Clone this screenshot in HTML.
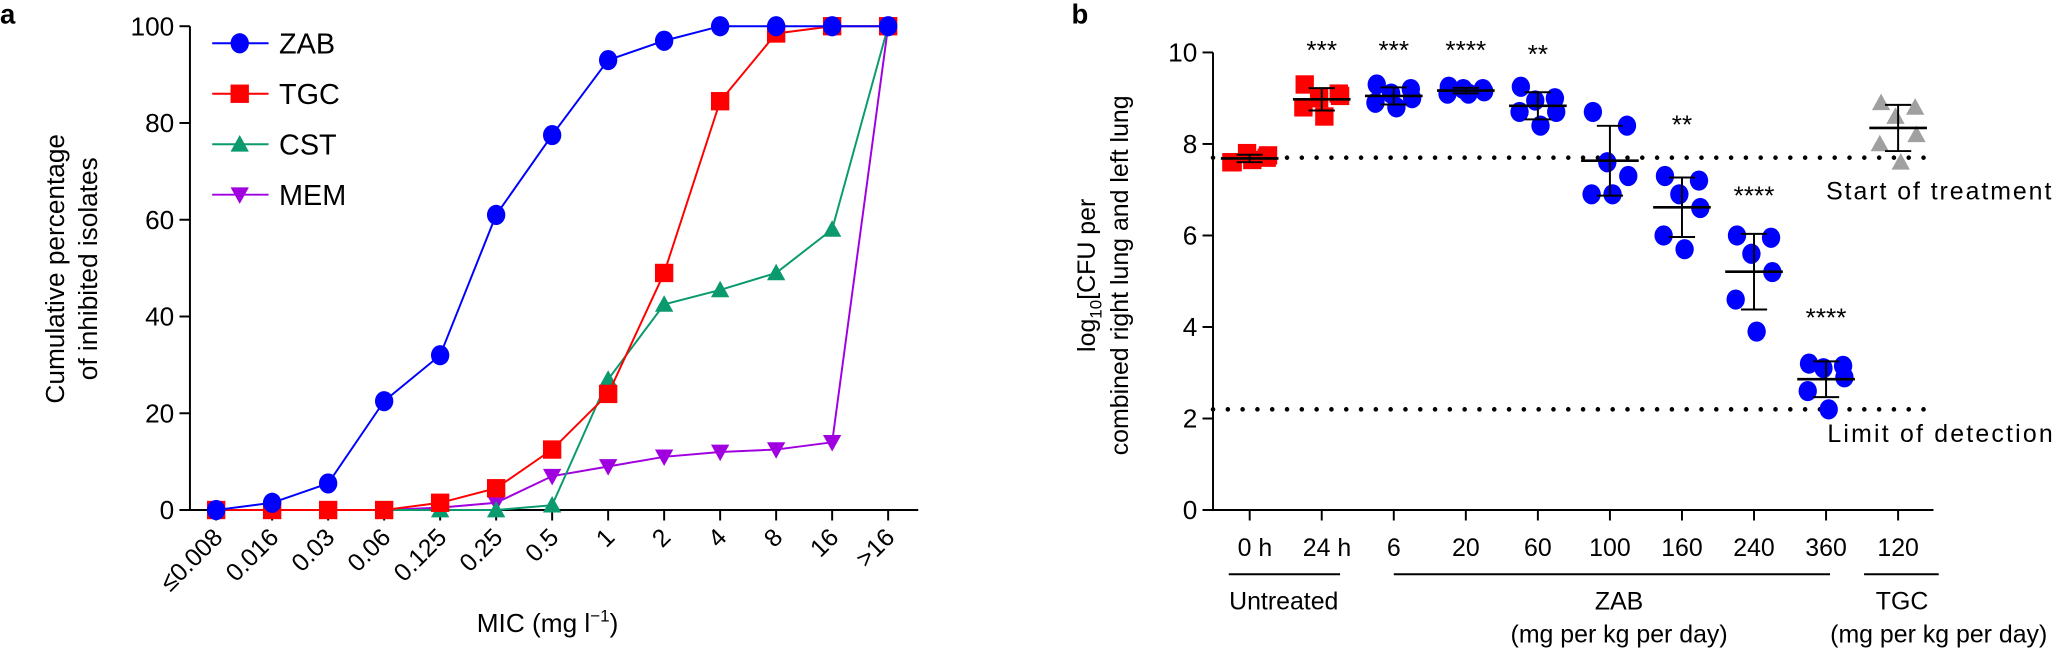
<!DOCTYPE html>
<html><head><meta charset="utf-8"><style>
html,body{margin:0;padding:0;background:#fff}
svg{display:block}
text{font-family:"Liberation Sans",Arial,sans-serif;fill:#000}
</style></head><body>
<svg id="s" width="2054" height="649" viewBox="0 0 1568 495" preserveAspectRatio="none" xmlns="http://www.w3.org/2000/svg">
<text x="0" y="18" font-size="21" font-weight="bold">a</text>
<text x="818" y="18" font-size="21" font-weight="bold">b</text>
<g id="A"></g>
<g id="B"></g>
</svg>
<script>
const NS="http://www.w3.org/2000/svg";
function el(p,t,a,txt){const e=document.createElementNS(NS,t);for(const k in a)e.setAttribute(k,a[k]);if(txt!==undefined)e.textContent=txt;p.appendChild(e);return e;}
const A=document.getElementById('A'),B=document.getElementById('B');
// Panel a
const ax=145,y0=389,y100=20;const Y=v=>y0-(y0-y100)*v/100;const X=i=>165+42.75*i;
el(A,'line',{x1:ax,y1:y100,x2:ax,y2:y0,stroke:'#000','stroke-width':1.5});
el(A,'line',{x1:ax-8,y1:y0,x2:701,y2:y0,stroke:'#000','stroke-width':1.5});
[0,20,40,60,80,100].forEach(v=>{el(A,'line',{x1:ax-8,y1:Y(v),x2:ax,y2:Y(v),stroke:'#000','stroke-width':1.5});el(A,'text',{x:ax-12,y:Y(v)+7,'font-size':20,'text-anchor':'end'},v);});
const cats=['≤0.008','0.016','0.03','0.06','0.125','0.25','0.5','1','2','4','8','16','>16'];
cats.forEach((c,i)=>{el(A,'line',{x1:X(i),y1:y0,x2:X(i),y2:y0+8,stroke:'#000','stroke-width':1.5});el(A,'text',{x:X(i)+6,y:y0+22,'font-size':19,'text-anchor':'end',transform:`rotate(-45 ${X(i)+6} ${y0+22})`},c);});
el(A,'text',{x:418,y:482,'font-size':20,'text-anchor':'middle'}).innerHTML='MIC (mg l<tspan dy="-8" font-size="13">−1</tspan><tspan dy="8">)</tspan>';
el(A,'text',{x:49,y:205,'font-size':20,'text-anchor':'middle',transform:'rotate(-90 49 205)'},'Cumulative percentage');
el(A,'text',{x:74,y:205,'font-size':20,'text-anchor':'middle',transform:'rotate(-90 74 205)'},'of inhibited isolates');
const series=[
 ['#0000ff','c',[0,1.5,5.5,22.5,32,61,77.5,93,97,100,100,100,100]],
 ['#ff0000','s',[0,0,0,0,1.5,4.5,12.5,24,49,84.5,98.5,100,100]],
 ['#0a9a6e','t',[0,0,0,0,0,0,1,27,42.5,45.5,49,58,100]],
 ['#a000e0','v',[0,0,0,0,0.5,1.5,7,9,11,12,12.5,14,100]]];
function mk(g,shape,x,y,c,r){r=r||7;
 if(shape=='c')el(g,'ellipse',{cx:x,cy:y,rx:r,ry:r*1.1,fill:c});
 else if(shape=='s')el(g,'rect',{x:x-r,y:y-r,width:2*r,height:2*r,fill:c});
 else if(shape=='t')el(g,'polygon',{points:`${x},${y-r} ${x+r},${y+r*0.8} ${x-r},${y+r*0.8}`,fill:c});
 else el(g,'polygon',{points:`${x},${y+r} ${x+r},${y-r*0.8} ${x-r},${y-r*0.8}`,fill:c});}
for(let k=3;k>=0;k--){const [c,sh,d]=series[k];
 el(A,'polyline',{points:d.map((v,i)=>X(i)+','+Y(v)).join(' '),fill:'none',stroke:c,'stroke-width':1.5});
 d.forEach((v,i)=>mk(A,sh,X(i),Y(v),c,7));}
['ZAB','TGC','CST','MEM'].forEach((n,k)=>{const y=33+38.5*k;const [c,sh]=series[k];
 el(A,'line',{x1:162,y1:y,x2:205,y2:y,stroke:c,'stroke-width':1.5});mk(A,sh,183,y,c,7);
 el(A,'text',{x:213,y:y+8,'font-size':22},n);});
// Panel b
const bx=926,b0=389,b10=40;const YB=v=>b0-(b0-b10)*v/10;const G=i=>954+55*i;
el(B,'line',{x1:bx,y1:b10,x2:bx,y2:b0,stroke:'#000','stroke-width':1.5});
el(B,'line',{x1:bx-8,y1:b0,x2:1476,y2:b0,stroke:'#000','stroke-width':1.5});
[0,2,4,6,8,10].forEach(v=>{el(B,'line',{x1:bx-8,y1:YB(v),x2:bx,y2:YB(v),stroke:'#000','stroke-width':1.5});el(B,'text',{x:bx-12,y:YB(v)+7,'font-size':20,'text-anchor':'end'},v);});
el(B,'line',{x1:bx,y1:YB(7.7),x2:1470,y2:YB(7.7),stroke:'#000','stroke-width':3.5,'stroke-dasharray':'0 11.3','stroke-linecap':'round'});
el(B,'line',{x1:bx,y1:YB(2.2),x2:1470,y2:YB(2.2),stroke:'#000','stroke-width':3.5,'stroke-dasharray':'0 11.3','stroke-linecap':'round'});
el(B,'text',{x:1394,y:152,'font-size':19,textLength:172},'Start of treatment');
el(B,'text',{x:1395,y:337,'font-size':19,textLength:172},'Limit of detection');
const lab=['0 h','24 h','6','20','60','100','160','240','360','120'];
lab.forEach((l,i)=>{el(B,'line',{x1:G(i),y1:b0,x2:G(i),y2:b0+8,stroke:'#000','stroke-width':1.5});el(B,'text',{x:G(i)+(i<2?4:0),y:424,'font-size':19,'text-anchor':'middle'},l);});
[[938,1023],[1064,1397],[1423,1480]].forEach(p=>el(B,'line',{x1:p[0],y1:438,x2:p[1],y2:438,stroke:'#000','stroke-width':1.5}));
el(B,'text',{x:980,y:465,'font-size':19,'text-anchor':'middle'},'Untreated');
el(B,'text',{x:1236,y:465,'font-size':19,'text-anchor':'middle'},'ZAB');
el(B,'text',{x:1236,y:490,'font-size':19,'text-anchor':'middle'},'(mg per kg per day)');
el(B,'text',{x:1452,y:465,'font-size':19,'text-anchor':'middle'},'TGC');
el(B,'text',{x:1480,y:490,'font-size':19,'text-anchor':'middle'},'(mg per kg per day)');
const yl1=el(B,'text',{x:836,y:210,'font-size':19,'text-anchor':'middle',transform:'rotate(-90 836 210)'});
yl1.innerHTML='log<tspan dy="5" font-size="13">10</tspan><tspan dy="-5">[CFU per</tspan>';
el(B,'text',{x:861,y:210,'font-size':19,'text-anchor':'middle',transform:'rotate(-90 861 210)'},'combined right lung and left lung');
const grp=[
 ['#ff0000','s',[7.6,7.7,7.8,7.75,7.6,7.65],'',0],
 ['#ff0000','s',[9.3,9.1,9.0,9.05,8.8,8.6],'***',35],
 ['#0000ff','c',[9.3,9.2,9.1,9.0,8.9,8.8],'***',35],
 ['#0000ff','c',[9.25,9.2,9.2,9.15,9.1,9.1],'****',35],
 ['#0000ff','c',[9.25,9.0,8.95,8.7,8.7,8.4],'**',38],
 ['#0000ff','c',[8.7,8.4,7.6,7.3,6.9,6.9],'',0],
 ['#0000ff','c',[7.3,7.2,6.9,6.6,6.0,5.7],'**',92],
 ['#0000ff','c',[6.0,5.95,5.6,5.2,4.6,3.9],'****',146],
 ['#0000ff','c',[3.2,3.15,3.1,2.9,2.6,2.2],'****',239],
 ['#a0a0a0','t',[8.9,8.8,8.6,8.2,8.0,7.6],'',0]];
const off=[-13,13,-2,14,-14,2];
grp.forEach((g,i)=>{const [c,sh,d,st,sy]=g;const x=G(i);
 d.forEach((v,j)=>mk(B,sh,x+off[j],YB(v),c,7));
 const m=d.reduce((a,b)=>a+b)/6;const sd=Math.sqrt(d.reduce((a,b)=>a+(b-m)*(b-m),0)/5);
 el(B,'line',{x1:x-22,y1:YB(m),x2:x+22,y2:YB(m),stroke:'#000','stroke-width':2});
 el(B,'line',{x1:x,y1:YB(m-sd),x2:x,y2:YB(m+sd),stroke:'#000','stroke-width':1.5});
 el(B,'line',{x1:x-10,y1:YB(m-sd),x2:x+10,y2:YB(m-sd),stroke:'#000','stroke-width':1.5});
 el(B,'line',{x1:x-10,y1:YB(m+sd),x2:x+10,y2:YB(m+sd),stroke:'#000','stroke-width':1.5});
 if(st){el(B,'text',{x:x,y:sy+10,'font-size':20,'text-anchor':'middle'},st);}
});
</script>
</body></html>
